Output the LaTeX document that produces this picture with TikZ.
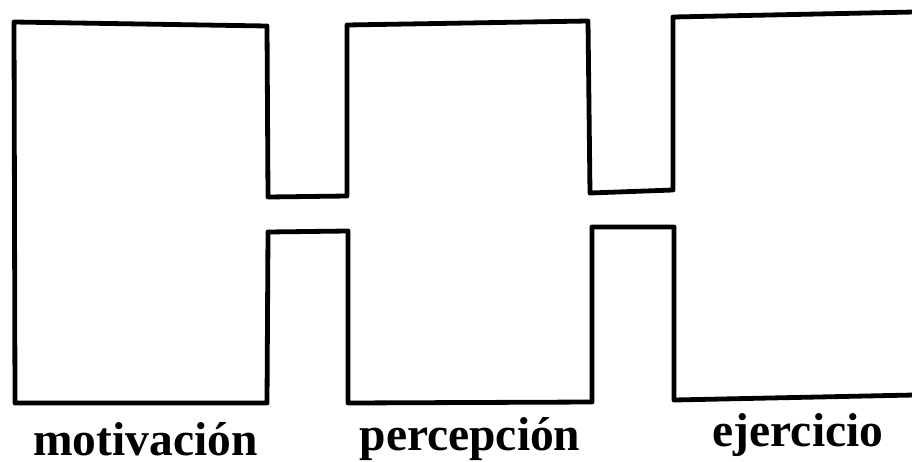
\documentclass[tikz,border=0pt]{standalone}
\usepackage{fontspec}
\setmainfont{Liberation Serif}
\begin{document}
\begin{tikzpicture}[x=1pt,y=-1pt,
  outline/.style={line width=4.8pt,line join=round,line cap=round,black},
  lab/.style={font=\fontsize{47.5}{52}\selectfont\bfseries,anchor=base,inner sep=0pt,text depth=0pt}]
\useasboundingbox (0,0) rectangle (912,461);
\clip (0,0) rectangle (912,461);
\fill[white] (0,0) rectangle (912,461);
\draw[outline] (914,12) -- (673,17) -- (673,190) -- (590,193) -- (588,21) -- (347,25)
  -- (347,196) -- (268,197) -- (267,26) -- (14,22) -- (15,403) -- (267,403)
  -- (268,232) -- (348,231) -- (348,403) -- (592,402) -- (592,227) -- (674,227)
  -- (674,400) -- (914,395);
\node[lab] (m) at (145.5,455) {motivación};
\node[lab] (p) at (470,450) {percepción};
\node[lab] (e) at (798,446) {ejercicio};
\end{tikzpicture}
\end{document}
